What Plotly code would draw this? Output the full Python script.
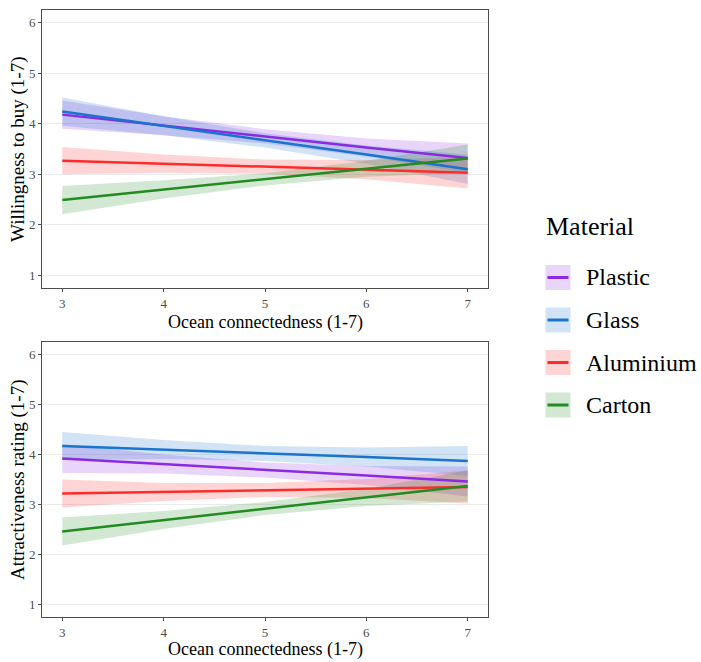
import plotly.graph_objects as go

# ---------------- data ----------------
x_vals = [3, 4, 5, 6, 7]
materials = ["Plastic", "Glass", "Aluminium", "Carton"]
line_colors = ["#8A2BE2", "#1874CD", "#FF2A2A", "#228B22"]
fill_colors = ["rgba(138,43,226,0.2)", "rgba(24,116,205,0.2)",
               "rgba(255,42,42,0.2)", "rgba(34,139,34,0.2)"]

# Willingness to buy (top panel): fitted values and CI half-widths
wtb_plastic = [4.18, 3.96, 3.75, 3.53, 3.32]
wtb_glass = [4.24, 3.96, 3.67, 3.39, 3.10]
wtb_aluminium = [3.27, 3.21, 3.15, 3.09, 3.03]
wtb_carton = [2.49, 2.70, 2.90, 3.11, 3.31]
wtb_plastic_ci = [0.28, 0.19, 0.14, 0.18, 0.29]
wtb_glass_ci = [0.28, 0.19, 0.14, 0.18, 0.29]
wtb_aluminium_ci = [0.27, 0.18, 0.14, 0.19, 0.31]
wtb_carton_ci = [0.28, 0.18, 0.12, 0.16, 0.28]

# Attractiveness rating (bottom panel)
att_plastic = [3.92, 3.81, 3.69, 3.58, 3.46]
att_glass = [4.17, 4.10, 4.02, 3.95, 3.87]
att_aluminium = [3.22, 3.25, 3.29, 3.32, 3.35]
att_carton = [2.46, 2.69, 2.92, 3.14, 3.37]
att_plastic_ci = [0.29, 0.19, 0.15, 0.19, 0.30]
att_glass_ci = [0.28, 0.19, 0.15, 0.19, 0.30]
att_aluminium_ci = [0.28, 0.18, 0.14, 0.19, 0.33]
att_carton_ci = [0.28, 0.18, 0.13, 0.17, 0.31]

x_ticks = [3, 4, 5, 6, 7]
y_ticks = [1, 2, 3, 4, 5, 6]
x_title = "Ocean connectedness (1-7)"
y_title_top = "Willingness to buy (1-7)"
y_title_bottom = "Attractiveness rating (1-7)"
legend_title = "Material"

top_fits = [wtb_plastic, wtb_glass, wtb_aluminium, wtb_carton]
top_cis = [wtb_plastic_ci, wtb_glass_ci, wtb_aluminium_ci, wtb_carton_ci]
bot_fits = [att_plastic, att_glass, att_aluminium, att_carton]
bot_cis = [att_plastic_ci, att_glass_ci, att_aluminium_ci, att_carton_ci]

# ---------------- figure ----------------
W, H = 701, 662
SERIF = "Liberation Serif, Times New Roman, serif"

fig = go.Figure()


def add_panel(fits, cis, xa, ya):
    for i, (fit, ci) in enumerate(zip(fits, cis)):
        upper = [f + c for f, c in zip(fit, ci)]
        lower = [f - c for f, c in zip(fit, ci)]
        fig.add_trace(go.Scatter(
            x=x_vals + x_vals[::-1], y=upper + lower[::-1],
            fill="toself", fillcolor=fill_colors[i], line=dict(width=0),
            mode="lines", hoverinfo="skip", showlegend=False,
            xaxis=xa, yaxis=ya))
    for i, fit in enumerate(fits):
        fig.add_trace(go.Scatter(
            x=x_vals, y=fit, mode="lines", name=materials[i],
            line=dict(color=line_colors[i], width=2.5),
            showlegend=False, xaxis=xa, yaxis=ya))


add_panel(top_fits, top_cis, "x", "y")
add_panel(bot_fits, bot_cis, "x2", "y2")


def px_x(p):
    return p / W


def px_y(p):
    return 1 - p / H


axis_common = dict(
    showline=True, mirror=True, linecolor="#4d4d4d", linewidth=1,
    ticks="outside", ticklen=3, tickcolor="#4d4d4d",
    tickfont=dict(family=SERIF, size=13, color="#4d4d4d"),
    zeroline=False,
)

xdom = [px_x(42), px_x(488)]
fig.update_layout(
    width=W, height=H,
    margin=dict(l=0, r=0, t=0, b=0),
    paper_bgcolor="white", plot_bgcolor="white",
    showlegend=False,
    xaxis=dict(domain=xdom, range=[2.8, 7.2], tickvals=x_ticks, showgrid=False,
               anchor="y", **axis_common),
    yaxis=dict(domain=[px_y(288), px_y(10)], range=[0.75, 6.25], tickvals=y_ticks,
               showgrid=True, gridcolor="#ebebeb", gridwidth=1, anchor="x",
               **axis_common),
    xaxis2=dict(domain=xdom, range=[2.8, 7.2], tickvals=x_ticks, showgrid=False,
                anchor="y2", **axis_common),
    yaxis2=dict(domain=[px_y(617), px_y(342)], range=[0.75, 6.25], tickvals=y_ticks,
                showgrid=True, gridcolor="#ebebeb", gridwidth=1, anchor="x2",
                **axis_common),
)

annotations = []
title_font = dict(family=SERIF, size=18, color="black")
xc = px_x((42 + 488) / 2)
annotations.append(dict(text=x_title, x=xc, y=px_y(322), xref="paper", yref="paper",
                        xanchor="center", yanchor="middle", showarrow=False, font=title_font))
annotations.append(dict(text=x_title, x=xc, y=0, xref="paper", yref="paper",
                        xanchor="center", yanchor="bottom", showarrow=False, font=title_font))
annotations.append(dict(text=y_title_top, x=px_x(18), y=px_y(149), xref="paper", yref="paper",
                        xanchor="center", yanchor="middle", textangle=-90, showarrow=False,
                        font=dict(family=SERIF, size=19, color="black")))
annotations.append(dict(text=y_title_bottom, x=px_x(18), y=px_y(480), xref="paper", yref="paper",
                        xanchor="center", yanchor="middle", textangle=-90, showarrow=False,
                        font=dict(family=SERIF, size=19, color="black")))

# Legend (manual)
annotations.append(dict(text=legend_title, x=px_x(544), y=px_y(227), xref="paper", yref="paper",
                        xanchor="left", yanchor="middle", showarrow=False,
                        font=dict(family=SERIF, size=26, color="black")))
shapes = []
row0, dy = 277.5, 42.5
for i, name in enumerate(materials):
    cy = row0 + i * dy
    shapes.append(dict(type="rect", xref="paper", yref="paper",
                       x0=px_x(545.5), x1=px_x(570.5), y0=px_y(cy - 12.5), y1=px_y(cy + 12.5),
                       fillcolor=fill_colors[i], line=dict(width=0)))
    shapes.append(dict(type="line", xref="paper", yref="paper",
                       x0=px_x(547.5), x1=px_x(568.5), y0=px_y(cy), y1=px_y(cy),
                       line=dict(color=line_colors[i], width=3)))
    annotations.append(dict(text=name, x=px_x(584), y=px_y(cy), xref="paper", yref="paper",
                            xanchor="left", yanchor="middle", showarrow=False,
                            font=dict(family=SERIF, size=24, color="black")))

fig.update_layout(annotations=annotations, shapes=shapes)

fig.write_html("out.html")
